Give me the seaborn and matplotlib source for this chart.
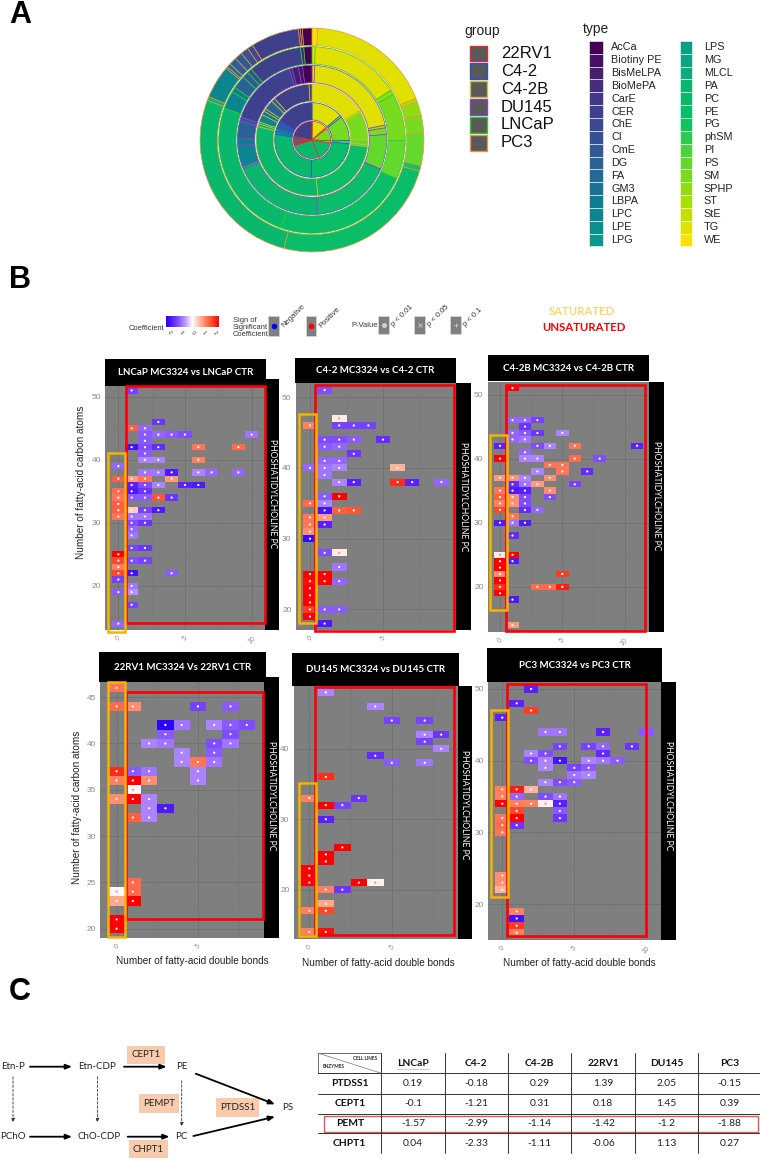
"""
Lipidomics figure: donut of lipid classes per cell line, PC heatmaps, pathway and enzyme table.
"""

import numpy as np
import pandas as pd
import matplotlib
matplotlib.use("Agg")
import matplotlib.pyplot as plt
from matplotlib.patches import Rectangle
import seaborn as sns

W, H = 760, 1160

# ─────────────────────────────────────────────
# Panel A data (degrees of each ring, legend order)
# ─────────────────────────────────────────────
GROUPS = ["22RV1", "C4-2", "C4-2B", "DU145", "LNCaP", "PC3"]
GROUP_COLORS = ["#e8262a", "#2a50d8", "#c9c42a", "#8a3fd0", "#22d02c", "#e8973a"]
LIPID_TYPES = [
    "AcCa", "Biotiny PE", "BisMeLPA", "BioMePA", "CarE", "CER", "ChE", "CI",
    "CmE", "DG", "FA", "GM3", "LBPA", "LPC", "LPE", "LPG",
    "LPS", "MG", "MLCL", "PA", "PC", "PE", "PG", "phSM",
    "PI", "PS", "SM", "SPHP", "ST", "StE", "TG", "WE",
]
RING_22RV1 = [0, 0, 0, 0, 0, 79, 0, 0, 0, 8, 0, 6, 0, 9, 3, 0,
              3, 0, 0, 0, 95, 57, 0, 0, 0, 8, 40, 0, 4, 0, 47, 1]
RING_C42 = [0, 0, 0, 0, 0, 60, 0, 0, 3, 8, 0, 0, 0, 6, 0, 4,
            0, 0, 0, 0, 98, 85, 0, 0, 5, 0, 39, 0, 0, 3, 49, 0]
RING_C42B = [0, 0, 0, 0, 3, 39, 0, 0, 4, 10, 3, 4, 0, 8, 0, 2,
             0, 0, 0, 3, 110, 77, 0, 0, 2, 5, 30, 0, 2, 0, 58, 0]
RING_DU145 = [7, 3, 5, 2, 0, 52, 0, 0, 3, 13, 0, 0, 5, 16, 0, 0,
              0, 0, 0, 2, 68, 60, 0, 0, 0, 26, 5, 0, 2, 0, 73, 2]
RING_LNCAP = [5, 0, 0, 2, 0, 33, 0, 3, 4, 8, 0, 0, 3, 11, 0, 0,
              0, 0, 0, 0, 89, 84, 0, 0, 0, 24, 29, 3, 0, 0, 55, 2]
RING_PC3 = [5, 1, 1, 0, 0, 25, 3, 4, 4, 4, 2, 1, 0, 17, 0, 0,
            0, 0, 0, 2, 96, 88, 3, 0, 0, 17, 9, 7, 2, 0, 65, 3]
RINGS = [RING_22RV1, RING_C42, RING_C42B, RING_DU145, RING_LNCAP, RING_PC3]

# ─────────────────────────────────────────────
# Panel B data: (double bonds, carbon atoms, coefficient)
# ─────────────────────────────────────────────
LNCAP_CELLS = [
    (1, 51, -1.2), (3, 46, -1.3), (1, 45, 1.3), (2, 45, -0.9), (2, 44, -1.0), (3, 44, -0.9),
    (4, 44, -1.0), (5, 44, -1.1), (10, 44, -0.8), (2, 43, -1.0), (1, 42, -1.7), (2, 42, -1.1),
    (3, 42, -1.4), (6, 42, 1.1), (9, 42, 1.2), (2, 41, -1.0), (2, 40, -0.7), (3, 40, -0.7),
    (6, 40, 1.0), (0, 39, -0.9), (2, 38, -0.8), (3, 38, -0.8), (4, 38, -1.6), (6, 38, -0.7),
    (7, 38, -0.9), (9, 38, -0.9), (0, 37, 1.3), (1, 37, 0.8), (2, 37, 1.1), (4, 37, 0.8),
    (1, 36, -1.5), (2, 36, -1.1), (3, 36, -0.7), (5, 36, -1.5), (6, 36, -1.6), (0, 35, 1.2),
    (1, 35, -1.6), (2, 35, -1.3), (0, 34, 1.1), (1, 34, -1.0), (2, 34, -1.0), (3, 34, 1.4),
    (4, 34, -1.3), (0, 33, 1.3), (0, 32, 1.3), (1, 32, 0.4), (2, 32, -1.2), (3, 32, -1.6),
    (0, 31, 1.1), (1, 31, -0.8), (2, 31, -0.8), (1, 30, -1.1), (2, 30, -1.3), (1, 29, -0.9),
    (1, 28, -0.8), (1, 26, -1.2), (2, 26, -1.3), (0, 25, 2.0), (0, 24, 1.5), (1, 24, -1.1),
    (2, 24, -1.2), (0, 23, 1.0), (0, 22, 1.5), (1, 22, -1.7), (4, 22, -1.0), (0, 21, -1.2),
    (1, 20, -0.8), (0, 19, -1.0), (1, 19, -0.6), (1, 17, -1.2), (0, 14, -0.9),
]
C42_CELLS = [
    (1, 51, -1.1), (2, 47, 0.15), (0, 46, 1.0), (2, 46, -1.2), (3, 46, -1.2), (4, 46, -1.2),
    (1, 44, -1.1), (2, 44, -1.1), (3, 44, -1.0), (5, 44, -1.4), (1, 43, -1.0), (2, 43, -0.9),
    (3, 42, -1.3), (1, 41, -0.9), (2, 41, -0.9), (0, 40, -0.9), (1, 40, -0.8), (2, 40, -0.7),
    (6, 40, 0.6), (1, 39, -0.8), (2, 38, -0.7), (3, 38, -1.5), (6, 38, 1.7), (7, 38, -1.5),
    (9, 38, -0.9), (1, 36, -1.0), (2, 36, 2.0), (0, 35, 1.2), (1, 35, -0.7), (1, 34, -1.7),
    (2, 34, 1.3), (3, 34, 1.4), (0, 33, 1.1), (1, 33, 0.8), (0, 32, 1.1), (1, 32, -1.5),
    (0, 31, 0.9), (0, 30, -1.8), (1, 28, -1.1), (2, 28, 0.15), (2, 26, -0.8), (0, 25, 2.0),
    (1, 25, 2.0), (0, 24, 1.9), (1, 24, 2.0), (2, 24, -0.9), (0, 23, 2.0), (0, 22, 2.0),
    (0, 21, 2.0), (0, 20, 1.6), (1, 20, -1.0), (2, 20, -1.0), (0, 19, 2.0), (1, 18, -1.6),
]
C42B_CELLS = [
    (1, 51, 2.0), (1, 46, -0.9), (2, 46, -0.9), (3, 46, -1.2), (2, 45, -1.3), (1, 44, -0.9),
    (2, 44, -1.0), (3, 44, -1.3), (5, 44, -0.7), (1, 43, -0.9), (2, 43, -0.8), (0, 42, -1.5),
    (3, 42, -1.1), (4, 42, -0.7), (6, 42, 1.1), (11, 42, -1.5), (2, 41, -0.9), (0, 40, 2.0),
    (2, 40, -0.7), (3, 40, -0.7), (6, 40, 1.2), (8, 40, -1.1), (4, 39, 1.1), (5, 39, 1.1),
    (3, 38, -0.7), (5, 38, 1.1), (7, 38, -1.4), (0, 37, 0.8), (1, 37, 0.9), (2, 37, -0.7),
    (4, 37, 0.9), (1, 36, -1.4), (2, 36, -0.8), (3, 36, 0.8), (6, 36, -1.2), (0, 35, 1.1),
    (1, 35, -1.6), (2, 35, -1.5), (4, 35, 0.9), (0, 34, 1.3), (1, 34, 0.9), (2, 34, -1.1),
    (4, 34, -1.1), (0, 33, 1.0), (1, 33, 0.9), (2, 33, -1.1), (0, 32, 1.5), (2, 32, -1.4),
    (3, 32, -0.9), (1, 31, 1.1), (0, 30, -1.6), (1, 30, -0.8), (2, 30, -1.6), (1, 28, -1.4),
    (0, 25, 0.15), (1, 25, 2.0), (0, 24, 2.0), (1, 24, -1.6), (0, 23, 2.0), (0, 22, 0.9),
    (5, 22, 1.6), (0, 21, 2.0), (0, 20, 1.7), (3, 20, 1.2), (4, 20, 1.2), (5, 20, 1.8),
    (0, 19, 2.0), (1, 18, -1.6), (1, 14, 0.8),
]
RV1_CELLS = [
    (0, 46, 1.1), (0, 44, 1.2), (1, 44, 0.9), (5, 44, -1.2), (7, 44, -1.0), (3, 42, -1.9),
    (4, 42, -0.8), (6, 42, -0.7), (7, 42, -1.0), (8, 42, -1.1), (3, 41, -1.0), (7, 41, -1.1),
    (2, 40, -0.7), (3, 40, -0.8), (6, 40, -1.1), (7, 40, -0.8), (4, 39, -0.7), (6, 39, -1.0),
    (4, 38, -0.7), (5, 38, 1.1), (6, 38, -0.8), (0, 37, 1.7), (1, 37, -1.0), (2, 37, -0.8),
    (5, 37, -0.7), (0, 36, 1.0), (1, 36, 2.0), (2, 36, 0.9), (5, 36, -0.7), (1, 35, 0.05),
    (0, 34, 0.9), (1, 34, 2.0), (2, 34, -0.7), (2, 33, -0.7), (3, 33, -1.6), (1, 32, 1.3),
    (2, 32, -0.7), (1, 25, 1.2), (0, 24, 0.05), (1, 24, 1.2), (0, 23, 0.7), (1, 23, 2.0),
    (0, 21, 2.0), (0, 20, 2.0),
]
DU145_CELLS = [
    (1, 48, -0.7), (4, 46, -0.7), (5, 44, -1.2), (7, 44, -1.2), (7, 42, -0.7), (8, 42, -1.3),
    (7, 41, -1.2), (8, 40, -0.7), (4, 39, -1.4), (5, 38, -1.0), (7, 38, -0.8), (1, 36, 1.7),
    (0, 33, 1.0), (3, 33, -1.3), (1, 32, 2.0), (2, 32, -1.2), (1, 30, -1.5), (2, 26, 2.0),
    (1, 25, 2.0), (1, 24, 2.0), (0, 23, 2.0), (0, 22, 2.0), (0, 21, 2.0), (3, 21, 2.0),
    (4, 21, 0.1), (1, 20, 1.0), (2, 20, -1.3), (1, 18, 0.7), (0, 17, 1.0), (1, 17, 1.5),
    (0, 14, 1.0), (1, 14, 1.9),
]
PC3_CELLS = [
    (2, 50, -1.5), (1, 48, -1.5), (2, 47, 1.6), (0, 46, -1.5), (3, 44, -0.8), (4, 44, -0.8),
    (7, 44, -1.5), (10, 44, -1.0), (4, 42, -1.2), (6, 42, -1.2), (7, 42, -0.9), (9, 42, -1.3),
    (2, 41, -0.7), (3, 41, -1.1), (7, 41, -1.4), (2, 40, -1.1), (3, 40, -0.7), (4, 40, -1.7),
    (6, 40, -0.7), (7, 40, -0.8), (8, 40, -1.0), (3, 39, -0.7), (5, 39, -1.2), (6, 39, -1.0),
    (5, 38, -0.8), (6, 38, -0.7), (3, 37, -0.7), (4, 37, -1.1), (5, 37, -1.0), (0, 36, 1.0),
    (1, 36, 1.8), (2, 36, 0.6), (0, 35, 1.0), (1, 35, -0.9), (3, 35, -1.1), (4, 35, -0.8),
    (0, 34, 2.0), (1, 34, 1.0), (2, 34, 1.0), (3, 34, 0.1), (4, 34, -1.5), (1, 33, 1.5),
    (4, 33, -1.0), (0, 32, 1.1), (1, 32, 2.0), (4, 32, -1.3), (0, 31, 1.2), (1, 31, -1.3),
    (0, 30, 1.1), (0, 24, 0.9), (0, 23, 0.9), (0, 22, 0.6), (1, 19, 1.0), (1, 18, -1.7),
    (1, 17, 1.6), (1, 16, 1.0),
]

# Panel C data
CELL_LINES = ["LNCaP", "C4-2", "C4-2B", "22RV1", "DU145", "PC3"]
ENZYMES = ["PTDSS1", "CEPT1", "PEMT", "CHPT1"]
PTDSS1_VALUES = ["0.19", "-0.18", "0.29", "1.39", "2.05", "-0.15"]
CEPT1_VALUES = ["-0.1", "-1.21", "0.31", "0.18", "1.45", "0.39"]
PEMT_VALUES = ["-1.57", "-2.99", "-1.14", "-1.42", "-1.2", "-1.88"]
CHPT1_VALUES = ["0.04", "-2.33", "-1.11", "-0.06", "1.13", "0.27"]
ENZYME_VALUES = [PTDSS1_VALUES, CEPT1_VALUES, PEMT_VALUES, CHPT1_VALUES]

# ─────────────────────────────────────────────
# Layout (pixels of the 760x1160 canvas)
# ─────────────────────────────────────────────
PANELS = [
    dict(title="LNCaP MC3324 vs LNCaP CTR", cells=LNCAP_CELLS, plot=(105, 386, 265, 630),
         head=(105, 359, 265.5, 385.5), strip=(265, 379, 279, 630), label=(272, 494),
         xlim=(-1, 11), ylim=(13, 51.7), xticks=[0, 5, 10], yticks=[20, 30, 40, 50],
         yellow=(107.7, 453, 124.7, 632), red=(126, 386, 264.7, 622.7)),
    dict(title="C4-2 MC3324 vs C4-2 CTR", cells=C42_CELLS, plot=(295.7, 383, 455.7, 630),
         head=(295, 358, 456, 383), strip=(455.7, 382.7, 471.3, 630), label=(463.5, 496.7),
         xlim=(-0.98, 9.98), ylim=(17.1, 52), xticks=[0, 5, 10], yticks=[20, 30, 40, 50],
         yellow=(299, 414.3, 316.3, 623.3), red=(315, 385, 454.3, 630.7)),
    dict(title="C4-2B MC3324 vs C4-2B CTR", cells=C42B_CELLS, plot=(487.7, 381.7, 649.3, 631.7),
         head=(487.7, 355, 649.3, 381), strip=(649.3, 381.7, 664.3, 631.7), label=(656.8, 496),
         xlim=(-0.99, 11.98), ylim=(13, 52), xticks=[0, 5, 10], yticks=[20, 30, 40, 50],
         yellow=(490.3, 435, 506.7, 610), red=(506, 385, 645, 631)),
    dict(title="22RV1 MC3324 Vs 22RV1 CTR", cells=RV1_CELLS, plot=(100, 682.3, 264, 937.7),
         head=(99.3, 651.7, 265.7, 682), strip=(264, 676.7, 278.7, 937.7), label=(271.3, 795.7),
         xlim=(-1.02, 9.06), ylim=(19.03, 46.6), xticks=[0, 5], yticks=[20, 25, 30, 35, 40, 45],
         yellow=(108.3, 682.3, 125, 936.7), red=(125.7, 691.7, 262.7, 919.3)),
    dict(title="DU145 MC3324 vs DU145 CTR", cells=DU145_CELLS, plot=(293.7, 686, 457.7, 939),
         head=(292.3, 652.7, 459, 685.7), strip=(457.7, 685.7, 472, 939), label=(464.8, 805),
         xlim=(-0.95, 9), ylim=(13, 48.9), xticks=[0, 5], yticks=[20, 30, 40],
         yellow=(299, 783.3, 316.3, 936), red=(315, 686.7, 454.3, 934.7)),
    dict(title="PC3 MC3324 vs PC3 CTR", cells=PC3_CELLS, plot=(488.3, 682.3, 661, 940),
         head=(487.3, 648.3, 661.7, 681.7), strip=(661, 681.7, 675.7, 940), label=(668.3, 796),
         xlim=(-0.97, 11.02), ylim=(15, 50.93), xticks=[0, 5, 10], yticks=[20, 30, 40, 50],
         yellow=(490.7, 710, 508, 897.3), red=(507.3, 684, 645.7, 936.3)),
]
LIPID_PALETTE = sns.blend_palette(
    ["#440154", "#46307f", "#3b4a93", "#2a6496", "#0b7f90", "#0b9c8a",
     "#0cb174", "#08c066", "#5fd930", "#a2df05", "#fde000"], 32)
COEF_CMAP = sns.blend_palette(
    ["#2000ff", "#5a20ff", "#8a58ff", "#c0a0ff", "#ffffff", "#ffc0ac", "#ff8060", "#ff4a2a", "#ff0000"],
    as_cmap=True)
GRAY = "#7f7f7f"
TICK_GRAY = "#8c8c8c"
BOX_ORANGE = "#f8cbad"


def px_axes(fig, left, top, right, bottom, **kwargs):
    """Axes placed by canvas pixels."""
    return fig.add_axes([left / W, 1 - bottom / H, (right - left) / W, (bottom - top) / H], **kwargs)


def draw_rings(ax):
    """Nested donut, inner ring first."""
    n_rings = len(RINGS)
    step = 1.0 / n_rings
    for i, (values, edge) in enumerate(zip(RINGS, GROUP_COLORS)):
        vals = np.array(values[::-1], dtype=float)
        cols = np.array(LIPID_PALETTE[::-1])
        keep = vals > 0
        radius = (i + 1) * step
        width = radius if i == 0 else step * 0.93
        ax.pie(vals[keep], colors=cols[keep], radius=radius, startangle=90, counterclock=False,
               wedgeprops=dict(width=width, edgecolor=edge, linewidth=0.5))
    ax.set_xlim(-1.005, 1.005)
    ax.set_ylim(-1.005, 1.005)


def draw_heatmap(fig, cfg):
    """One fatty-acid heatmap with its significance dots."""
    df = pd.DataFrame(cfg["cells"], columns=["bonds", "carbons", "coef"])
    grid = df.pivot(index="carbons", columns="bonds", values="coef")
    c_min, b_min = df["carbons"].min(), df["bonds"].min()
    grid = grid.reindex(index=range(c_min, df["carbons"].max() + 1),
                        columns=range(b_min, df["bonds"].max() + 1))

    ax = px_axes(fig, *cfg["plot"])
    ax.set_facecolor(GRAY)
    sns.heatmap(grid, ax=ax, cmap=COEF_CMAP, vmin=-2, vmax=2, cbar=False,
                xticklabels=False, yticklabels=False)
    ax.set_xlabel("")
    ax.set_ylabel("")

    xticks, yticks = cfg["xticks"], cfg["yticks"]
    ax.set_xticks([t - b_min + 0.5 for t in xticks], labels=xticks, rotation=45)
    ax.set_yticks([t - c_min + 0.5 for t in yticks], labels=yticks, rotation=0)
    ax.tick_params(axis="x", labelsize=5, colors=TICK_GRAY, length=1.5, width=0.5, pad=2)
    ax.tick_params(axis="y", labelsize=6, colors=TICK_GRAY, length=1.5, width=0.5, pad=1.5)
    x_minor = [t + 2.5 - b_min + 0.5 for t in xticks]
    y_step = yticks[1] - yticks[0]
    y_minor = [t + y_step / 2 - c_min + 0.5 for t in [yticks[0] - y_step] + yticks]
    ax.set_xticks(x_minor, minor=True)
    ax.set_yticks(y_minor, minor=True)
    ax.tick_params(which="minor", length=0)
    ax.set_axisbelow(True)
    ax.grid(True, which="major", color="#707070", linewidth=0.6)
    ax.grid(True, which="minor", color="#787878", linewidth=0.4)
    for spine in ax.spines.values():
        spine.set_visible(False)

    pale = df["coef"].abs() < 0.3
    ax.scatter(df["bonds"] - b_min + 0.5, df["carbons"] - c_min + 0.5,
               c=np.where(pale, "#ff9090", "white"), s=2.6, linewidths=0, zorder=4)

    # ticks push the view out, so the limits come last
    ax.set_xlim(cfg["xlim"][0] - b_min + 0.5, cfg["xlim"][1] - b_min + 0.5)
    ax.set_ylim(cfg["ylim"][0] - c_min + 0.5, cfg["ylim"][1] - c_min + 0.5)


def draw_panel_frames(ov, cfg):
    """Title bar, side strip and the saturated / unsaturated frames."""
    left, top, right, bottom = cfg["head"]
    ov.add_patch(Rectangle((left, top), right - left, bottom - top, color="black", lw=0))
    ov.text((left + right) / 2, (top + bottom) / 2 + 0.3, cfg["title"], color="white", ha="center",
            va="center", fontsize=7, fontweight="bold", family="Lato")
    left, top, right, bottom = cfg["strip"]
    ov.add_patch(Rectangle((left, top), right - left, bottom - top, color="black", lw=0))
    ov.text(cfg["label"][0], cfg["label"][1], "PHOSHATIDYLCHOLINE PC", color="white", ha="center",
            va="center", rotation=-90, fontsize=6.2, family="Lato")
    left, top, right, bottom = cfg["red"]
    ov.add_patch(Rectangle((left, top), right - left, bottom - top, fill=False, ec="#fb0007", lw=1.9))
    left, top, right, bottom = cfg["yellow"]
    ov.add_patch(Rectangle((left, top), right - left, bottom - top, fill=False, ec="#f5b400", lw=1.8))


def draw_legend_a(ov):
    """Group and lipid type keys."""
    ov.text(464, 31, "group", fontsize=10, va="center", color="#222222", family="Liberation Sans")
    for i, (name, col) in enumerate(zip(GROUPS, GROUP_COLORS)):
        yc = 53.3 + i * 17.9
        ov.add_patch(Rectangle((470, yc - 7.8), 16.5, 15.6, fc="#595959", ec=col, lw=1))
        ov.text(500.7, yc, name, fontsize=12, va="center", color="#111111", family="Liberation Sans")
    ov.text(583, 29, "type", fontsize=10, va="center", color="#222222", family="Liberation Sans")
    for i, (name, col) in enumerate(zip(LIPID_TYPES, LIPID_PALETTE)):
        column, row = divmod(i, 16)
        yc = 47.3 + row * 12.85
        key_x, key_w = (588.5, 14) if column == 0 else (680, 12)
        text_x = 611 if column == 0 else 703.8
        ov.add_patch(Rectangle((key_x, yc - 6.4), key_w, 12.8, fc=col, ec="white", lw=0.4))
        ov.text(text_x, yc, name, fontsize=7.8, va="center", color="#222222", family="Liberation Sans")


def draw_legend_b(fig, ov):
    """Coefficient bar, sign keys and p-value keys above the heatmaps."""
    key = dict(fontsize=5.4, color="#333333", family="Liberation Sans")
    ov.text(146.5, 328, "Coefficient", ha="center", va="center", **key)
    cb = px_axes(fig, 165.7, 316, 219, 326.7)
    sns.heatmap(np.linspace(-2, 2, 120).reshape(1, -1), ax=cb, cmap=COEF_CMAP, vmin=-2, vmax=2,
                cbar=False, xticklabels=False, yticklabels=False)
    for i, tick in enumerate(["-2", "-1", "0", "1", "2"]):
        ov.text(170 + i * 11.3, 333, tick, fontsize=4, color="#444444", rotation=-45,
                ha="center", va="center", family="Liberation Sans")
    ov.text(232.7, 327.7, "Sign of\nSignificant\nCoefficient", va="center", linespacing=1.05, **key)

    for x0, col, text in [(268.3, "#0000ff", "Negative"), (305.7, "#ff0000", "Positive")]:
        ov.add_patch(Rectangle((x0, 315.7), 10.7, 20, fc=GRAY, ec="#d8d8d8", lw=0.5))
        ov.plot(x0 + 5.3, 326, "o", color=col, ms=4, mew=0)
        ov.text(x0 + 15, 327, text, rotation=45, rotation_mode="anchor", ha="left", va="center", **key)

    ov.text(351, 325.7, "P-Value", va="center", **key)
    for x0, mark, text in [(378.3, "o", "p < 0.01"), (414.3, "x", "p < 0.05"), (450.3, "+", "p < 0.1")]:
        ov.add_patch(Rectangle((x0, 315.7), 10.7, 18.5, fc=GRAY, ec="#d8d8d8", lw=0.5))
        ov.plot(x0 + 5.3, 325, mark, color="#cfcfcf", ms=3, mew=0.6)
        ov.text(x0 + 14, 326, text, rotation=45, rotation_mode="anchor", ha="left", va="center", **key)

    ov.text(582, 311.7, "SATURATED", color="#ffd66b", fontsize=8.2, fontweight="bold",
            ha="center", va="center", family="Lato")
    ov.text(584, 327.7, "UNSATURATED", color="#fb0007", fontsize=8.2, fontweight="bold",
            ha="center", va="center", family="Lato")


def draw_pathway(ov):
    """Phospholipid synthesis scheme."""
    style = dict(fontsize=7, color="#222222", ha="center", va="center", family="Lato")
    nodes = [("Etn-P", 13, 1066.7), ("Etn-CDP", 97, 1066.7), ("PE", 181.7, 1066.7),
             ("PChO", 13, 1136.7), ("ChO-CDP", 99, 1136.7), ("PC", 181, 1136.7), ("PS", 287.4, 1108)]
    for name, x, y in nodes:
        ov.text(x, y, name, **style)
    boxes = [("CEPT1", 127, 1045.7, 164.6, 1064), ("CHPT1", 129, 1139.7, 168, 1158.3),
             ("PEMPT", 138.8, 1094.3, 179, 1113), ("PTDSS1", 215.8, 1098.3, 259, 1117)]
    for name, x0, y0, x1, y1 in boxes:
        ov.add_patch(Rectangle((x0, y0), x1 - x0, y1 - y0, color=BOX_ORANGE, lw=0))
        ov.text((x0 + x1) / 2, (y0 + y1) / 2, name, **style)
    solid = [((30, 1066.7), (72, 1066.7)), ((124, 1066.7), (166.6, 1066.7)),
             ((30, 1136.7), (72, 1136.7)), ((127.6, 1136.7), (169.5, 1136.7)),
             ((195.8, 1073.7), (275, 1104.3)), ((193.4, 1136), (275, 1116.7))]
    for start, end in solid:
        ov.annotate("", xy=end, xytext=start,
                    arrowprops=dict(arrowstyle="-|>,head_width=0.12,head_length=0.3", color="black",
                                    lw=1.3, shrinkA=0, shrinkB=0))
    dashed = [((13, 1076.7), (13, 1122.7)), ((97.4, 1076.7), (97.4, 1122.7)),
              ((181.7, 1080.7), (181.7, 1126.7))]
    for start, end in dashed:
        ov.annotate("", xy=end, xytext=start,
                    arrowprops=dict(arrowstyle="-|>,head_width=0.08,head_length=0.2", color="#333333",
                                    lw=0.6, linestyle=(0, (3, 2)), shrinkA=0, shrinkB=0))


def draw_table(ov):
    """Enzyme expression table."""
    col_edges = [381.4, 444.7, 508, 571.4, 634.7, 698, 761]
    row_edges = [1073.3, 1093.7, 1114, 1133.3, 1153.3]
    head = dict(fontsize=7.4, fontweight="bold", color="#111111", ha="center", va="center", family="Lato")
    cell = dict(fontsize=7.4, color="#222222", ha="center", va="center", family="Lato")

    ov.add_patch(Rectangle((317.6, 1053), 63.8, 20.3, fill=False, ec="#555555", lw=0.6))
    ov.plot([317.6, 381.4], [1053, 1073.3], color="#777777", lw=0.5)
    ov.text(365, 1059, "CELL LINES", fontsize=3.4, fontweight="bold", ha="center", va="center", family="Lato")
    ov.text(334, 1066.7, "ENZYMES", fontsize=3.4, fontweight="bold", ha="center", va="center", family="Lato")

    for y in row_edges[:-1]:
        ov.plot([317.6, 761], [y, y], color="#333333", lw=0.7)
    for x in col_edges[:-1]:
        ov.plot([x, x], [1053.3, 1153.3], color="#333333", lw=0.7)

    for j, name in enumerate(CELL_LINES):
        ov.text((col_edges[j] + col_edges[j + 1]) / 2, 1064, name, **head)
    for i, (enzyme, values) in enumerate(zip(ENZYMES, ENZYME_VALUES)):
        yc = (row_edges[i] + row_edges[i + 1]) / 2
        ov.text(349.7, yc, enzyme, **head)
        for j, value in enumerate(values):
            ov.text((col_edges[j] + col_edges[j + 1]) / 2, yc, value, **cell)
    ov.plot([397, 429], [1069, 1069], color="#f4b6b6", lw=0.6)
    ov.add_patch(Rectangle((324, 1115.7), 434.4, 16.3, fill=False, ec="#ef5350", lw=1))


def main():
    sns.set_theme(style="white")
    plt.rcParams["font.family"] = ["Liberation Sans", "DejaVu Sans"]

    fig = plt.figure(figsize=(W / 100, H / 100), dpi=100, facecolor="white")

    # Panel A
    draw_rings(px_axes(fig, 199.5, 27.5, 424.5, 252.5))

    # Panel B heatmaps
    for cfg in PANELS:
        draw_heatmap(fig, cfg)

    # everything placed by pixels goes on one overlay
    ov = px_axes(fig, 0, 0, W, H, zorder=10)
    ov.set_xlim(0, W)
    ov.set_ylim(H, 0)
    ov.axis("off")

    for letter, y in [("A", 15), ("B", 280), ("C", 992)]:
        ov.text(9, y, letter, fontsize=22, fontweight="bold", color="black", va="center",
                family="Liberation Sans")

    draw_legend_a(ov)
    draw_legend_b(fig, ov)
    for cfg in PANELS:
        draw_panel_frames(ov, cfg)

    label = dict(fontsize=7.2, color="#222222", ha="center", va="center", family="Liberation Sans")
    ov.text(80.5, 482, "Number of fatty-acid carbon atoms", rotation=90, **label)
    ov.text(77, 807, "Number of fatty-acid carbon atoms", rotation=90, **label)
    for x, y in [(192, 961), (378, 963), (579, 962.7)]:
        ov.text(x, y, "Number of fatty-acid double bonds", **label)

    draw_pathway(ov)
    draw_table(ov)

    fig.savefig("out.png", dpi=100, facecolor="white")
    plt.close(fig)


if __name__ == "__main__":
    main()
